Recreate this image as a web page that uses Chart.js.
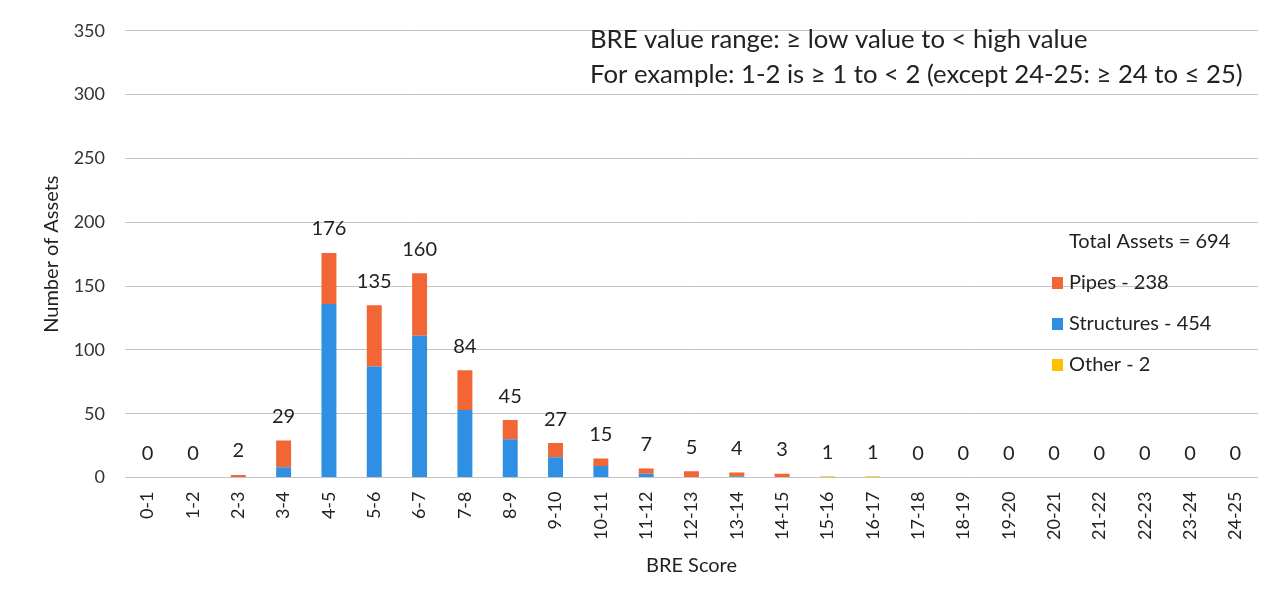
<!DOCTYPE html>
<html>
<head>
<meta charset="utf-8">
<script src="https://cdn.jsdelivr.net/npm/chart.js@4/dist/chart.umd.min.js"></script>
<style>
  html, body { margin: 0; padding: 0; background: #fff; }
  #wrap { width: 1278px; height: 608px; }
</style>
</head>
<body>
<div id="wrap"><canvas id="breChart" width="1278" height="608"></canvas></div>
<script>
const categories = ['0-1','1-2','2-3','3-4','4-5','5-6','6-7','7-8','8-9','9-10','10-11','11-12','12-13',
    '13-14','14-15','15-16','16-17','17-18','18-19','19-20','20-21','21-22','22-23','23-24','24-25'];
const structures = [0,0,0,8,136,87,111,53,30,16,9,3,0,1,0,0,0,0,0,0,0,0,0,0,0];
const pipes      = [0,0,2,21,40,48,49,31,15,11,6,4,5,3,3,0,0,0,0,0,0,0,0,0,0];
const other      = [0,0,0,0,0,0,0,0,0,0,0,0,0,0,0,1,1,0,0,0,0,0,0,0,0];
const yTicks = [0,50,100,150,200,250,300,350];
const noteLines = ['BRE value range: \u2265 low value to < high value',
    'For example: 1-2 is \u2265 1 to < 2 (except 24-25: \u2265 24 to \u2264 25)'];
const totalText = 'Total Assets = 694';

const FONT = 'Lato, "Liberation Sans", sans-serif';

// totals above each stack
const totalsPlugin = {
    id: 'totals',
    afterDatasetsDraw(chart) {
        const ctx = chart.ctx;
        const x = chart.scales.x, y = chart.scales.y;
        ctx.save();
        ctx.font = '20px ' + FONT;
        ctx.fillStyle = '#222';
        ctx.textAlign = 'center';
        ctx.textBaseline = 'middle';
        categories.forEach((c, i) => {
            const tot = structures[i] + pipes[i] + other[i];
            ctx.fillText(String(tot), x.getPixelForValue(i), y.getPixelForValue(tot) - 24);
        });
        ctx.restore();
    }
};

// note text + legend on the right
const notesPlugin = {
    id: 'notes',
    afterDraw(chart) {
        const ctx = chart.ctx;
        ctx.save();
        ctx.fillStyle = '#222';
        ctx.textBaseline = 'middle';
        ctx.textAlign = 'left';
        ctx.font = '25.7px ' + FONT;
        ctx.fillText(noteLines[0], 590, 40);
        ctx.fillText(noteLines[1], 590, 75);

        ctx.font = '20px ' + FONT;
        ctx.fillText(totalText, 1069, 242);
        const sets = chart.data.datasets;
        const order = [1, 0, 2];
        order.forEach((di, k) => {
            const ds = sets[di];
            const yy = 283 + k * 41;
            ctx.fillStyle = ds.backgroundColor;
            ctx.fillRect(1052, yy - 6, 11, 12);
            ctx.fillStyle = '#222';
            ctx.fillText(ds.label + ' - ' + ds.data.reduce((a, b) => a + b, 0), 1069, yy);
        });
        ctx.restore();
    }
};

new Chart(document.getElementById('breChart'), {
    type: 'bar',
    data: {
        labels: categories,
        datasets: [
            { label: 'Structures', data: structures, backgroundColor: '#2f8fe3' },
            { label: 'Pipes', data: pipes, backgroundColor: '#f26535' },
            { label: 'Other', data: other, backgroundColor: '#ffc000' }
        ]
    },
    options: {
        responsive: false,
        animation: false,
        layout: { padding: { top: 30, right: 20, bottom: 26, left: 36 } },
        datasets: { bar: { categoryPercentage: 1.0, barPercentage: 0.33 } },
        plugins: { legend: { display: false }, tooltip: { enabled: false } },
        scales: {
            x: {
                stacked: true,
                grid: { display: false },
                border: { display: false },
                ticks: { color: '#222', font: { family: FONT, size: 18 }, minRotation: 90, maxRotation: 90, padding: 6 },
                title: { display: true, text: 'BRE Score', color: '#222', font: { family: FONT, size: 20 }, padding: { top: 8 } }
            },
            y: {
                stacked: true,
                min: 0, max: 350,
                afterBuildTicks(axis) { axis.ticks = yTicks.map(v => ({ value: v })); },
                afterFit(axis) { axis.width = 89; },
                grid: { color: '#c4c4c4', borderDash: [3, 5], drawTicks: false },
                border: { display: false },
                ticks: { color: '#333', font: { family: FONT, size: 18 }, padding: 20 },
                title: { display: true, text: 'Number of Assets', color: '#222', font: { family: FONT, size: 20 }, padding: { top: 4, bottom: 9 } }
            }
        }
    },
    plugins: [totalsPlugin, notesPlugin]
});
</script>
</body>
</html>
